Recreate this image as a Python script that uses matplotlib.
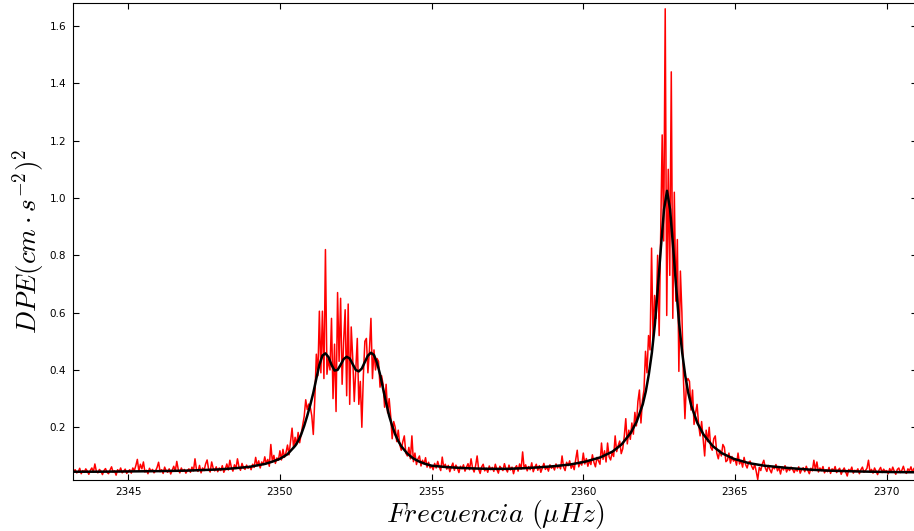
import matplotlib
matplotlib.use('Agg')
import matplotlib.pyplot as plt
import numpy as np

# espectro observado: muestras cada 0.05 uHz desde 2343.00 (una fila = 1 uHz)
freq_start = 2343.0
freq_step = 0.05
power_rows = [
    [0.048, 0.042, 0.051, 0.039, 0.046, 0.052, 0.041, 0.044, 0.057, 0.038, 0.049, 0.043, 0.055, 0.047, 0.036, 0.050, 0.058, 0.044, 0.072, 0.046],
    [0.041, 0.053, 0.047, 0.035, 0.049, 0.056, 0.043, 0.038, 0.051, 0.062, 0.044, 0.048, 0.033, 0.052, 0.045, 0.058, 0.041, 0.047, 0.054, 0.039],
    [0.046, 0.052, 0.040, 0.058, 0.049, 0.066, 0.088, 0.047, 0.071, 0.055, 0.079, 0.044, 0.050, 0.038, 0.057, 0.046, 0.053, 0.041, 0.048, 0.060],
    [0.078, 0.045, 0.052, 0.039, 0.061, 0.048, 0.043, 0.055, 0.037, 0.050, 0.064, 0.047, 0.081, 0.052, 0.041, 0.058, 0.046, 0.053, 0.040, 0.049],
    [0.055, 0.043, 0.061, 0.048, 0.090, 0.052, 0.046, 0.067, 0.041, 0.058, 0.049, 0.072, 0.086, 0.053, 0.044, 0.079, 0.057, 0.048, 0.062, 0.045],
    [0.058, 0.049, 0.066, 0.043, 0.055, 0.072, 0.051, 0.085, 0.060, 0.047, 0.069, 0.056, 0.090, 0.062, 0.050, 0.074, 0.059, 0.053, 0.068, 0.057],
    [0.064, 0.052, 0.071, 0.060, 0.095, 0.066, 0.083, 0.058, 0.079, 0.070, 0.097, 0.073, 0.088, 0.064, 0.140, 0.081, 0.102, 0.074, 0.093, 0.085],
    [0.118, 0.086, 0.123, 0.095, 0.112, 0.138, 0.104, 0.150, 0.197, 0.128, 0.165, 0.139, 0.182, 0.146, 0.176, 0.205, 0.238, 0.296, 0.262, 0.281],
    [0.270, 0.240, 0.175, 0.300, 0.455, 0.380, 0.605, 0.390, 0.605, 0.370, 0.820, 0.385, 0.440, 0.400, 0.580, 0.300, 0.490, 0.255, 0.670, 0.430],
    [0.650, 0.350, 0.500, 0.610, 0.310, 0.630, 0.280, 0.550, 0.440, 0.290, 0.400, 0.510, 0.280, 0.360, 0.200, 0.380, 0.500, 0.510, 0.390, 0.470],
    [0.580, 0.370, 0.470, 0.400, 0.440, 0.430, 0.340, 0.380, 0.350, 0.270, 0.350, 0.250, 0.300, 0.240, 0.160, 0.220, 0.200, 0.150, 0.190, 0.140],
    [0.120, 0.150, 0.170, 0.110, 0.100, 0.130, 0.090, 0.170, 0.080, 0.110, 0.070, 0.090, 0.100, 0.065, 0.085, 0.072, 0.094, 0.061, 0.078, 0.058],
    [0.066, 0.052, 0.074, 0.058, 0.081, 0.063, 0.049, 0.096, 0.060, 0.071, 0.054, 0.067, 0.045, 0.062, 0.075, 0.050, 0.068, 0.057, 0.042, 0.064],
    [0.055, 0.069, 0.047, 0.061, 0.073, 0.052, 0.090, 0.058, 0.044, 0.066, 0.100, 0.054, 0.039, 0.062, 0.071, 0.048, 0.057, 0.043, 0.065, 0.052],
    [0.060, 0.046, 0.071, 0.053, 0.040, 0.064, 0.057, 0.049, 0.073, 0.055, 0.044, 0.068, 0.051, 0.061, 0.038, 0.058, 0.066, 0.047, 0.072, 0.054],
    [0.114, 0.056, 0.069, 0.048, 0.063, 0.052, 0.076, 0.045, 0.060, 0.071, 0.050, 0.066, 0.043, 0.058, 0.074, 0.053, 0.062, 0.047, 0.069, 0.057],
    [0.064, 0.051, 0.072, 0.058, 0.067, 0.055, 0.100, 0.061, 0.049, 0.078, 0.066, 0.083, 0.057, 0.070, 0.052, 0.088, 0.120, 0.062, 0.079, 0.068],
    [0.110, 0.072, 0.091, 0.064, 0.085, 0.070, 0.104, 0.078, 0.062, 0.095, 0.083, 0.071, 0.145, 0.088, 0.118, 0.079, 0.145, 0.097, 0.086, 0.112],
    [0.098, 0.170, 0.115, 0.136, 0.152, 0.108, 0.125, 0.168, 0.230, 0.142, 0.190, 0.158, 0.215, 0.176, 0.252, 0.205, 0.290, 0.330, 0.215, 0.295],
    [0.330, 0.465, 0.390, 0.520, 0.470, 0.825, 0.500, 0.660, 0.580, 0.800, 0.520, 0.880, 1.220, 0.850, 1.660, 0.590, 1.100, 0.730, 1.440, 0.580],
    [1.020, 0.640, 0.855, 0.395, 0.745, 0.600, 0.370, 0.230, 0.360, 0.370, 0.360, 0.260, 0.330, 0.210, 0.250, 0.280, 0.210, 0.170, 0.220, 0.160],
    [0.100, 0.190, 0.150, 0.200, 0.130, 0.120, 0.160, 0.170, 0.110, 0.090, 0.120, 0.100, 0.140, 0.130, 0.080, 0.085, 0.110, 0.075, 0.098, 0.082],
    [0.090, 0.068, 0.110, 0.072, 0.084, 0.061, 0.095, 0.070, 0.058, 0.078, 0.082, 0.064, 0.053, 0.071, 0.046, 0.018, 0.060, 0.049, 0.072, 0.085],
    [0.058, 0.046, 0.067, 0.052, 0.041, 0.063, 0.055, 0.070, 0.048, 0.059, 0.037, 0.062, 0.051, 0.066, 0.044, 0.057, 0.049, 0.061, 0.053, 0.042],
    [0.056, 0.047, 0.062, 0.040, 0.053, 0.059, 0.045, 0.064, 0.050, 0.038, 0.057, 0.048, 0.085, 0.052, 0.079, 0.044, 0.058, 0.049, 0.063, 0.041],
    [0.052, 0.045, 0.060, 0.039, 0.055, 0.048, 0.063, 0.042, 0.051, 0.057, 0.036, 0.049, 0.058, 0.044, 0.030, 0.053, 0.047, 0.061, 0.040, 0.050],
    [0.046, 0.055, 0.038, 0.052, 0.061, 0.043, 0.049, 0.057, 0.085, 0.044, 0.053, 0.040, 0.058, 0.047, 0.035, 0.051, 0.060, 0.042, 0.054, 0.046],
    [0.049, 0.038, 0.056, 0.044, 0.061, 0.047, 0.036, 0.053, 0.058, 0.042, 0.050, 0.064, 0.045, 0.039, 0.055, 0.048, 0.062, 0.043, 0.057, 0.051],
]

# ajuste (suma de lorentzianas)
fit_freq = [2343.0, 2344.0, 2345.0, 2346.0, 2347.0, 2347.5, 2348.0, 2348.5, 2349.0, 2349.5,
            2349.75, 2350.0, 2350.25, 2350.5, 2350.6, 2350.7, 2350.8, 2350.9, 2351.0, 2351.1,
            2351.2, 2351.3, 2351.4, 2351.5, 2351.6, 2351.7, 2351.8, 2351.9, 2352.0, 2352.1,
            2352.2, 2352.3, 2352.4, 2352.5, 2352.6, 2352.7, 2352.8, 2352.9, 2353.0, 2353.1,
            2353.2, 2353.3, 2353.4, 2353.5, 2353.6, 2353.7, 2353.8, 2353.9, 2354.0, 2354.2,
            2354.4, 2354.6, 2354.8, 2355.0, 2355.5, 2356.0, 2356.5, 2357.0, 2357.5, 2358.0,
            2358.5, 2359.0, 2359.56, 2360.06, 2360.56, 2360.96, 2361.26, 2361.56, 2361.76, 2361.96,
            2362.06, 2362.16, 2362.26, 2362.36, 2362.46, 2362.56, 2362.66, 2362.76, 2362.86, 2362.96,
            2363.06, 2363.16, 2363.26, 2363.36, 2363.46, 2363.56, 2363.76, 2363.96, 2364.26, 2364.56,
            2364.96, 2365.46, 2365.96, 2366.76, 2367.5, 2368.0, 2369.0, 2370.0, 2371.0]
fit_power = [0.045, 0.045, 0.046, 0.047, 0.049, 0.051, 0.053, 0.057, 0.062, 0.072,
             0.080, 0.090, 0.106, 0.135, 0.152, 0.175, 0.205, 0.240, 0.278, 0.320,
             0.370, 0.418, 0.450, 0.458, 0.445, 0.418, 0.398, 0.400, 0.418, 0.438,
             0.446, 0.440, 0.420, 0.400, 0.395, 0.405, 0.428, 0.450, 0.460, 0.452,
             0.425, 0.385, 0.335, 0.285, 0.240, 0.205, 0.175, 0.152, 0.134, 0.108,
             0.091, 0.080, 0.072, 0.066, 0.061, 0.058, 0.056, 0.055, 0.055, 0.057,
             0.060, 0.064, 0.070, 0.080, 0.095, 0.115, 0.140, 0.180, 0.220, 0.280,
             0.325, 0.385, 0.460, 0.560, 0.690, 0.830, 0.960, 1.025, 0.960, 0.830,
             0.690, 0.560, 0.460, 0.380, 0.320, 0.275, 0.215, 0.175, 0.135, 0.110,
             0.090, 0.075, 0.066, 0.058, 0.052, 0.049, 0.046, 0.044, 0.043]

xtick_vals = [2345, 2350, 2355, 2360, 2365, 2370]
ytick_vals = [0.2, 0.4, 0.6, 0.8, 1.0, 1.2, 1.4, 1.6]

plt.rcParams['mathtext.fontset'] = 'cm'

power = np.concatenate([np.array(r) for r in power_rows])
freq = freq_start + freq_step * np.arange(len(power))

fig = plt.figure(figsize=(9.14, 5.31), dpi=100)
ax = fig.add_axes([0.0799, 0.096, 0.9234, 0.8977])

ax.plot(freq, power, color='r', lw=1.1)
ax.plot(fit_freq, fit_power, color='k', lw=1.8)

ax.set_xlim(2343.18, 2371.0)
ax.set_ylim(0.016, 1.679)
ax.set_xticks(xtick_vals)
ax.set_xticklabels([str(v) for v in xtick_vals])
ax.set_yticks(ytick_vals)
ax.set_yticklabels(['%.1f' % v for v in ytick_vals])
ax.tick_params(direction='in', top=True, right=True, length=4, width=0.8,
               labelsize=7.5, pad=5)

ax.set_ylabel(r'$DPE(cm \cdot s^{-2})^2$', fontsize=19.5, labelpad=2)
ax.set_xlabel(r'$Frecuencia\ (\mu Hz)$', fontsize=20, labelpad=1)

fig.savefig('out.png', dpi=100)
